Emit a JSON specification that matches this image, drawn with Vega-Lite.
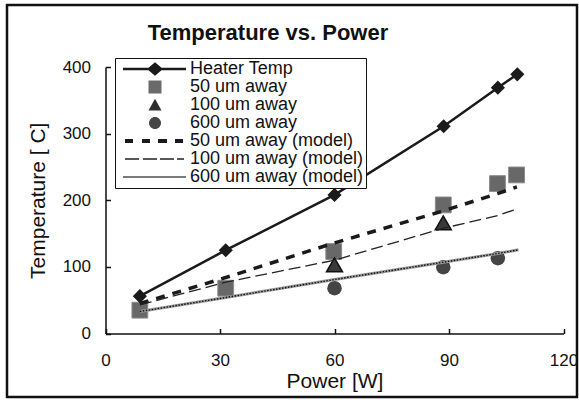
{
  "$schema": "https://vega.github.io/schema/vega-lite/v6.json",
  "width": 570,
  "height": 392,
  "autosize": {"type": "none"},
  "padding": {"left": 7, "top": 5, "right": 2, "bottom": 3},
  "background": "white",
  "config": {
    "font": "Liberation Sans",
    "view": {"stroke": "#111", "strokeWidth": 2.5}
  },
  "title": {
    "text": "Temperature vs. Power",
    "fontSize": 22,
    "fontWeight": "bold",
    "color": "#111",
    "anchor": "middle",
    "dx": -24,
    "offset": -40
  },
  "data": {
    "values": [
      {"series": "Heater Temp", "power": 9, "temp": 56},
      {"series": "Heater Temp", "power": 31.5, "temp": 125},
      {"series": "Heater Temp", "power": 60, "temp": 208},
      {"series": "Heater Temp", "power": 88.6, "temp": 311},
      {"series": "Heater Temp", "power": 102.8, "temp": 369},
      {"series": "Heater Temp", "power": 107.9, "temp": 389},
      {"series": "50 um away", "power": 9, "temp": 35},
      {"series": "50 um away", "power": 31.5, "temp": 68},
      {"series": "50 um away", "power": 59.8, "temp": 123},
      {"series": "50 um away", "power": 88.5, "temp": 193},
      {"series": "50 um away", "power": 102.7, "temp": 225},
      {"series": "50 um away", "power": 107.7, "temp": 238},
      {"series": "100 um away", "power": 60, "temp": 103},
      {"series": "100 um away", "power": 88.5, "temp": 166},
      {"series": "600 um away", "power": 60, "temp": 68},
      {"series": "600 um away", "power": 88.5, "temp": 99.5},
      {"series": "600 um away", "power": 102.8, "temp": 113},
      {"series": "50 um away (model)", "power": 9, "temp": 45},
      {"series": "50 um away (model)", "power": 31.5, "temp": 84},
      {"series": "50 um away (model)", "power": 60, "temp": 136},
      {"series": "50 um away (model)", "power": 88.5, "temp": 184},
      {"series": "50 um away (model)", "power": 102.7, "temp": 210},
      {"series": "50 um away (model)", "power": 107.8, "temp": 220},
      {"series": "100 um away (model)", "power": 9, "temp": 43},
      {"series": "100 um away (model)", "power": 31.5, "temp": 77},
      {"series": "100 um away (model)", "power": 60, "temp": 110},
      {"series": "100 um away (model)", "power": 88.5, "temp": 158},
      {"series": "100 um away (model)", "power": 102.7, "temp": 177},
      {"series": "100 um away (model)", "power": 107.8, "temp": 187},
      {"series": "600 um away (model)", "power": 9, "temp": 33},
      {"series": "600 um away (model)", "power": 31.5, "temp": 54},
      {"series": "600 um away (model)", "power": 60, "temp": 81},
      {"series": "600 um away (model)", "power": 88.5, "temp": 107},
      {"series": "600 um away (model)", "power": 102.7, "temp": 120},
      {"series": "600 um away (model)", "power": 108.2, "temp": 125.6}
    ]
  },
  "encoding": {
    "x": {
      "field": "power",
      "type": "quantitative",
      "scale": {"domain": [0, 120], "range": [98.5, 556.5], "nice": false, "zero": false},
      "axis": {
        "title": "Power [W]",
        "values": [0, 30, 60, 90, 120],
        "offset": -63.5,
        "grid": false,
        "domainColor": "#111",
        "domainWidth": 1.5,
        "tickColor": "#111",
        "tickWidth": 1.5,
        "tickSize": -5,
        "labelPadding": 24,
        "labelFontSize": 17,
        "labelColor": "#111",
        "labelFlush": false,
        "titleFontSize": 21,
        "titleFontWeight": "normal",
        "titleColor": "#111",
        "titlePadding": 2
      }
    },
    "y": {
      "field": "temp",
      "type": "quantitative",
      "scale": {"domain": [0, 400], "range": [328.5, 62], "nice": false, "zero": false},
      "axis": {
        "title": "Temperature [ C]",
        "values": [0, 100, 200, 300, 400],
        "offset": -98.5,
        "grid": false,
        "domainColor": "#111",
        "domainWidth": 1.5,
        "tickColor": "#111",
        "tickWidth": 1.5,
        "tickSize": -5,
        "labelPadding": 20,
        "labelFontSize": 17,
        "labelColor": "#111",
        "titleFontSize": 21,
        "titleFontWeight": "normal",
        "titleColor": "#111",
        "titlePadding": 14
      }
    }
  },
  "layer": [
    {
      "transform": [{"filter": "datum.series == '50 um away'"}],
      "mark": {"type": "point", "shape": "square", "filled": true, "opacity": 1, "size": 250, "fill": "#686868", "stroke": "#8c8c8c", "strokeWidth": 1}
    },
    {
      "transform": [{"filter": "datum.series == '100 um away'"}],
      "mark": {"type": "point", "shape": "triangle-up", "filled": true, "opacity": 1, "size": 256, "fill": "#3a3a3a", "stroke": "#111", "strokeWidth": 1.5}
    },
    {
      "transform": [{"filter": "datum.series == '600 um away'"}],
      "mark": {"type": "point", "shape": "circle", "filled": true, "opacity": 1, "size": 210, "fill": "#454545"}
    },
    {
      "transform": [{"filter": "datum.series == '50 um away (model)'"}],
      "mark": {"type": "line", "color": "#1a1a1a", "strokeWidth": 3.5, "strokeDash": [9, 8]}
    },
    {
      "transform": [{"filter": "datum.series == '100 um away (model)'"}],
      "mark": {"type": "line", "color": "#222", "strokeWidth": 1.3, "strokeDash": [12, 5]}
    },
    {
      "transform": [{"filter": "datum.series == '600 um away (model)'"}],
      "mark": {"type": "line", "color": "#9a9a9a", "strokeWidth": 3}
    },
    {
      "transform": [{"filter": "datum.series == '600 um away (model)'"}],
      "mark": {"type": "line", "color": "#111", "strokeWidth": 1.4, "strokeDash": [1.5, 1.5]}
    },
    {
      "transform": [{"filter": "datum.series == 'Heater Temp'"}],
      "mark": {"type": "line", "color": "#1a1a1a", "strokeWidth": 2.5}
    },
    {
      "transform": [{"filter": "datum.series == 'Heater Temp'"}],
      "mark": {"type": "point", "shape": "diamond", "filled": true, "opacity": 1, "size": 200, "fill": "#1a1a1a"}
    },
    {
      "transform": [{"filter": "datum.series == 'no-row'"}],
      "mark": {"type": "point", "filled": true, "opacity": 1, "size": 100},
      "encoding": {
        "shape": {
          "field": "series",
          "type": "nominal",
          "scale": {
            "domain": ["Heater Temp", "50 um away", "100 um away", "600 um away", "50 um away (model)", "100 um away (model)", "600 um away (model)"],
            "range": [
              "M-0.6,-0.25H12V0.25H-0.6ZM5.8,-1.35L7.4,0L5.8,1.35L4.2,0Z",
              "M4.5,-1.3H7.1V1.3H4.5Z",
              "M5.8,-1.25L7.1,1.1H4.5Z",
              "M4.6,0A1.2,1.2,0,1,1,7,0A1.2,1.2,0,1,1,4.6,0Z",
              "M-0.2,-0.4H1.4V0.4H-0.2ZM3.2,-0.4H4.8V0.4H3.2ZM6.4,-0.4H8.2V0.4H6.4ZM9.8,-0.4H11.4V0.4H9.8Z",
              "M-0.2,-0.13H2.6V0.13H-0.2ZM3.4,-0.13H6.2V0.13H3.4ZM6.8,-0.13H9.6V0.13H6.8ZM10.2,-0.13H11.6V0.13H10.2Z",
              "M-0.6,-0.22H12V0.22H-0.6Z"
            ]
          },
          "legend": {
            "title": null,
            "orient": "none",
            "legendX": 108,
            "legendY": 53,
            "symbolSize": 100,
            "symbolStrokeWidth": 0,
            "symbolOpacity": 1,
            "labelFontSize": 18,
            "labelColor": "#111",
            "labelOffset": 55,
            "labelLimit": 400,
            "rowPadding": 0,
            "padding": 2,
            "strokeColor": "#111",
            "fillColor": "white"
          }
        },
        "color": {
          "field": "series",
          "type": "nominal",
          "scale": {
            "domain": ["Heater Temp", "50 um away", "100 um away", "600 um away", "50 um away (model)", "100 um away (model)", "600 um away (model)"],
            "range": ["#1a1a1a", "#6a6a6a", "#2e2e2e", "#454545", "#1a1a1a", "#222222", "#7a7a7a"]
          },
          "legend": {
            "title": null,
            "orient": "none",
            "legendX": 108,
            "legendY": 53,
            "symbolSize": 100,
            "symbolStrokeWidth": 0,
            "symbolOpacity": 1,
            "labelFontSize": 18,
            "labelColor": "#111",
            "labelOffset": 55,
            "labelLimit": 400,
            "rowPadding": 0,
            "padding": 2,
            "strokeColor": "#111",
            "fillColor": "white"
          }
        }
      }
    }
  ]
}
